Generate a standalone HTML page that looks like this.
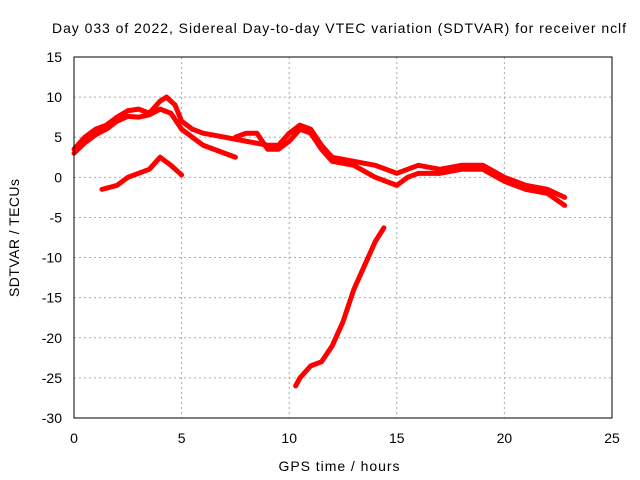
<!DOCTYPE html>
<html><head><meta charset="utf-8"><style>
body{margin:0;background:#fff}
svg{display:block;font-family:"Liberation Sans",sans-serif}
</style></head><body>
<svg id="chart" width="640" height="480">
<text x="339" y="33" font-size="14" text-anchor="middle" textLength="574" lengthAdjust="spacing">Day 033 of 2022, Sidereal Day-to-day VTEC variation (SDTVAR) for receiver nclf</text>
<text x="339" y="471" font-size="14" text-anchor="middle" textLength="121" lengthAdjust="spacing">GPS time / hours</text>
<text transform="translate(19,238) rotate(-90)" font-size="14" text-anchor="middle" textLength="118" lengthAdjust="spacing">SDTVAR / TECUs</text>
<g id="grid"></g><g id="ticks"></g><g id="series"></g>
<rect x="74" y="57" width="538" height="361" fill="none" stroke="#000" stroke-width="1"/>
</svg>
<script>
const xTicks=[0,5,10,15,20,25];
const yTicks=[15,10,5,0,-5,-10,-15,-20,-25,-30];
const upperA=[[0,3.5],[0.5,5],[1,6],[1.5,6.5],[2,7.5],[2.5,8.3],[3,8.5],[3.5,8],[4,9.5],[4.3,10],[4.7,9],[5,7],[5.5,6],[6,5.5],[7,5],[8,4.5],[9,4],[9.5,4],[10,5.5],[10.5,6.5],[11,6],[11.5,4],[12,2.5],[13,2],[14,1.5],[15,0.5],[15.5,1],[16,1.5],[17,1],[18,1.5],[19,1.5],[20,0],[21,-1],[22,-1.5],[22.8,-2.5]];
const upperB=[[0,3],[0.5,4.3],[1,5.3],[1.5,6],[2,7],[2.5,7.6],[3,7.5],[3.5,7.8],[4,8.5],[4.5,8],[5,6],[6,4],[7,3],[7.5,2.5]];
const upperC=[[7.5,5],[8,5.5],[8.5,5.5],[9,3.5],[9.5,3.5],[10,4.5],[10.5,6],[11,5.5],[11.5,3.5],[12,2],[13,1.5],[14,0],[15,-1],[15.5,0],[16,0.5],[17,0.5],[18,1],[19,1],[20,-0.5],[21,-1.5],[22,-2],[22.8,-3.5]];
const lowerArc=[[1.3,-1.5],[2,-1],[2.5,0],[3,0.5],[3.5,1],[4,2.5],[4.5,1.5],[5,0.3]];
const steepRise=[[10.3,-26],[10.5,-25],[11,-23.5],[11.5,-23],[12,-21],[12.5,-18],[13,-14],[13.5,-11],[14,-8],[14.4,-6.3]];
const sx=h=>74+h*(538/25), sy=v=>57+(15-v)*(361/45);
const NS="http://www.w3.org/2000/svg";
const g=document.getElementById('grid'),t=document.getElementById('ticks'),s=document.getElementById('series');
function mk(tag,a,p){const e=document.createElementNS(NS,tag);for(const k in a)e.setAttribute(k,a[k]);p.appendChild(e);return e;}
xTicks.forEach(v=>{
 if(v>0&&v<25){const l=mk('line',{x1:sx(v),x2:sx(v),y1:57,y2:418,stroke:'#aaa','stroke-dasharray':'2,3'},g);
 
 }
 const tx=mk('text',{x:sx(v),y:443,'font-size':14,'text-anchor':'middle'},t);tx.textContent=v;
 
 
});
yTicks.forEach(v=>{
 if(v<15&&v>-30){const l=mk('line',{x1:74,x2:612,y1:sy(v),y2:sy(v),stroke:'#aaa','stroke-dasharray':'2,3'},g);
 
 }
 const tx=mk('text',{x:62,y:sy(v)+5,'font-size':14,'text-anchor':'end'},t);tx.textContent=v;
 
 
});
[['upper-track-a',upperA],['upper-track-b',upperB],['upper-track-c',upperC],['lower-arc',lowerArc],['steep-rise',steepRise]].forEach(([n,d])=>{
 const p=mk('polyline',{points:d.map(q=>sx(q[0])+','+sy(q[1])).join(' '),fill:'none',stroke:'#f00','stroke-width':5,'stroke-linejoin':'round','stroke-linecap':'round'},s);
 
 
});
</script>
</body></html>
